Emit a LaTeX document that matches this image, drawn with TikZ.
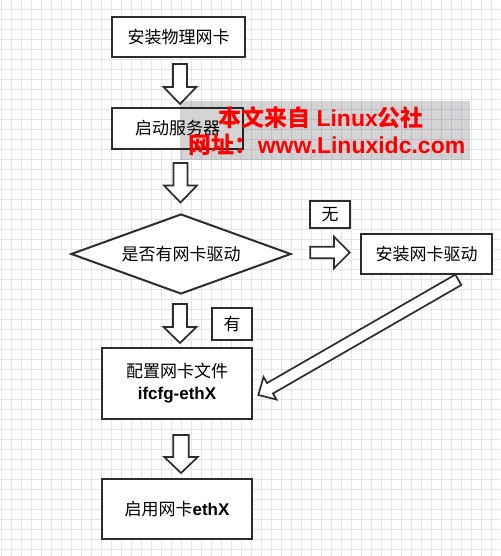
\documentclass[tikz,border=0pt]{standalone}
\usepackage{fontspec}
\setmainfont{Liberation Sans}
\newfontfamily\cjk{Noto Sans CJK SC}
\usetikzlibrary{calc,shapes.geometric}
\definecolor{gridc}{RGB}{228,228,240}
\definecolor{linec}{RGB}{45,45,45}
\definecolor{wmgray}{RGB}{212,212,212}
\definecolor{wmred}{RGB}{255,0,0}
\newcommand{\barrow}[5]{%
  \coordinate (baN) at ($(#2)!#5pt!(#1)$);
  \draw[blockarr] ($(#1)!#3pt!90:(#2)$) -- ($(baN)!#3pt!90:(#2)$) -- ($(baN)!#4pt!90:(#2)$) -- (#2)
    -- ($(baN)!#4pt!-90:(#2)$) -- ($(baN)!#3pt!-90:(#2)$) -- ($(#1)!#3pt!-90:(#2)$) -- cycle;}
\tikzset{
  box/.style={draw=linec, line width=2pt, fill=white, inner sep=0pt, align=center,
    font=\fontsize{17}{22}\selectfont},
  dia/.style={diamond, aspect=2.75, draw=linec, line width=2pt, fill=white, inner sep=0pt,
    minimum width=220pt, minimum height=80pt, font=\fontsize{17}{22}\selectfont},
  blockarr/.style={draw=linec, line width=1.7pt, fill=white, line join=miter},
  wm/.style={text=wmred, inner sep=0pt, font=\fontsize{23}{26}\selectfont\bfseries},
  gridline/.style={draw=gridc, line width=1pt}
}
\begin{document}
\begin{tikzpicture}[x=1pt,y=-1pt]
\useasboundingbox (0,0) rectangle (500,556);
\fill[white] (0,0) rectangle (500,556);
\foreach \i in {0,...,49} \draw[gridline] (1.7+10*\i,0) -- (1.7+10*\i,556);
\foreach \j in {0,...,55} \draw[gridline] (0,9.3+10*\j) -- (500,9.3+10*\j);

\node[box, minimum width=133pt, minimum height=40pt] (b1) at (178.5,37) {\cjk 安装物理网卡};
\node[box, minimum width=131pt, minimum height=41pt] (b2) at (177.5,128.5) {\cjk 启动服务器};
\node[dia] (dia) at (181,254) {\cjk 是否有网卡驱动};
\node[box, minimum width=40pt, minimum height=27pt] (no) at (330,214.5) {\cjk 无};
\node[box, minimum width=131pt, minimum height=40pt] (b5) at (426.5,254) {\cjk 安装网卡驱动};
\node[box, minimum width=40pt, minimum height=32pt] (yes) at (232,324) {\cjk 有};
\node[box, minimum width=150pt, minimum height=71pt] (b3) at (177,383.5) {{\cjk 配置网卡文件}\\{\bfseries ifcfg-ethX}};
\node[box, minimum width=150pt, minimum height=60pt] (b4) at (177,509) {{\cjk 启用网卡}{\bfseries ethX}};

\coordinate (a1s) at ($(b1.south)+(1.5,6)$);
\coordinate (a1e) at ($(b2.north)+(2.5,-3)$);
\coordinate (a2s) at ($(b2.south)+(3,13)$);
\coordinate (a2e) at ($(dia.north)+(-0.5,-10.5)$);
\coordinate (a3s) at ($(dia.south)+(-1,9)$);
\coordinate (a3e) at ($(b3.north)+(3,-4)$);
\coordinate (a4s) at ($(b3.south)+(4,15)$);
\coordinate (a4e) at ($(b4.north)+(4,-5)$);
\coordinate (a5s) at ($(dia.east)+(18.3,-1.5)$);
\coordinate (a5e) at ($(b5.west)+(-10.3,-1.5)$);
\coordinate (a6s) at ($(b5.south)+(31.8,4.8)$);
\coordinate (a6e) at ($(b3.east)+(5.3,11.5)$);

\barrow{a1s}{a1e}{7}{16.5}{17}
\barrow{a2s}{a2e}{7}{16.5}{17}
\barrow{a3s}{a3e}{7}{16.5}{16}
\barrow{a4s}{a4e}{7.8}{16.7}{16}
\barrow{a5s}{a5e}{5.8}{15.8}{15.7}
\barrow{a6s}{a6e}{6}{13}{13.5}

\begin{scope}[blend mode=multiply]
\node[fill=wmgray, minimum width=290pt, minimum height=59pt, inner sep=0pt] (wmbg) at (325,130.5) {};
\end{scope}
\node[wm] (w1) at (321,117.5) {{\cjk 本文来自} Linux{\cjk 公社}};
\node[wm] (w2) at (327,145) {{\cjk 网址：}www.Linuxidc.com};
\end{tikzpicture}
\end{document}
